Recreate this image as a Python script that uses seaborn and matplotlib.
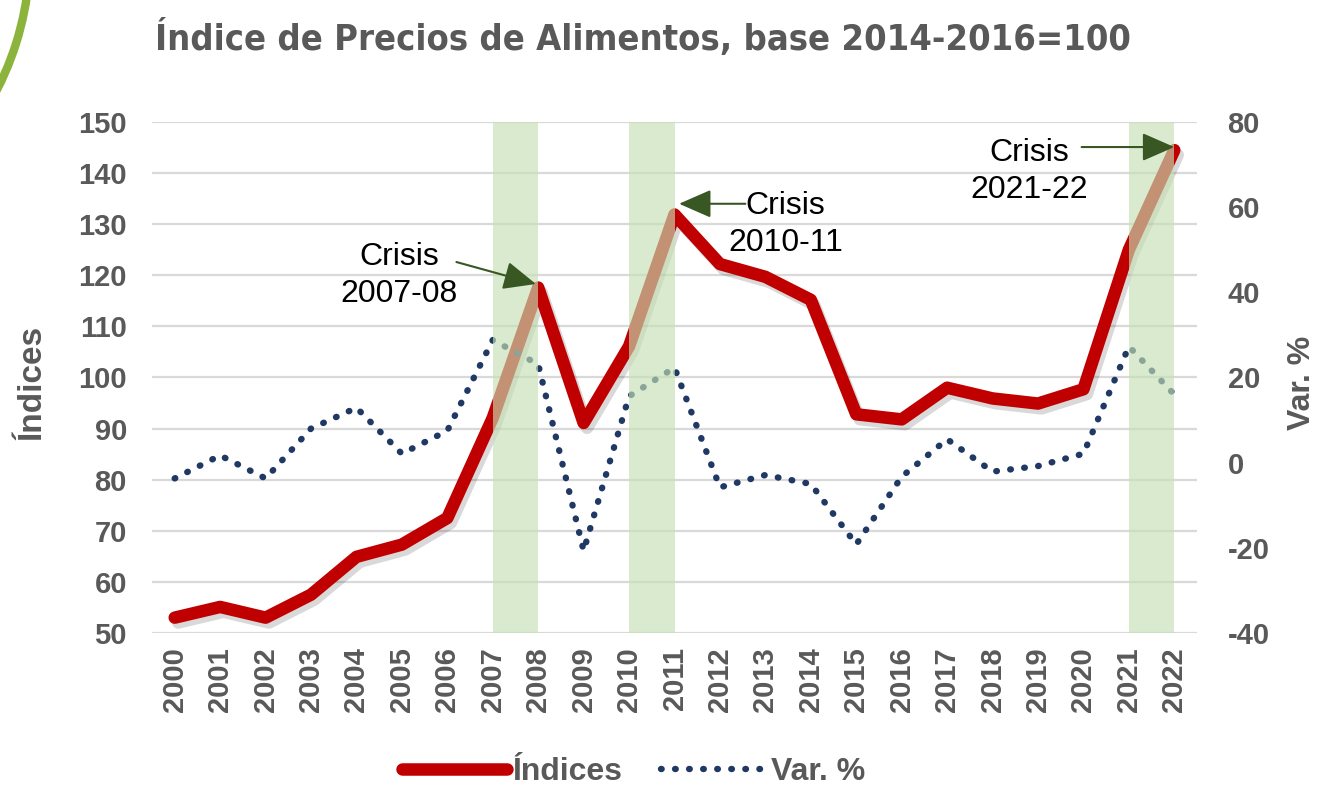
import numpy as np
import pandas as pd
import seaborn as sns
import matplotlib.pyplot as plt
import matplotlib.patheffects as pe
from matplotlib.lines import Line2D
from matplotlib.patches import Arc
from matplotlib.transforms import IdentityTransform

# values
years = list(range(2000, 2023))
indices = [53.0, 55.1, 53.0, 57.5, 64.9, 67.3, 72.5, 92.1, 117.6, 91.1, 106.1, 131.9,
           122.2, 119.7, 115.2, 92.8, 91.8, 98.0, 95.9, 94.9, 97.7, 125.0, 144.5]
var_pct = [-3.7, 1.7, -3.7, 8.0, 12.9, 2.1, 7.5, 28.8, 23.1, -20.7, 15.6, 22.3,
           -5.8, -2.9, -5.0, -19.2, -3.3, 5.5, -2.1, -0.8, 2.1, 27.3, 16.0]
crisis_spans = [(2007, 2008), (2010, 2011), (2021, 2022)]
crisis_labels = ['Crisis\n2007-08', 'Crisis\n2010-11', 'Crisis\n2021-22']

df = pd.DataFrame({'year': years, 'indice': indices, 'var': var_pct})

sns.set_theme(style='white')
plt.rcParams['font.family'] = ['Liberation Sans', 'DejaVu Sans']
plt.rcParams['font.weight'] = 'bold'
plt.rcParams['axes.unicode_minus'] = False

GRAY = '#595959'
RED = '#c00000'
NAVY = '#1f3864'
ARROW = '#385723'
dots = (0, (0.1, 2.1))

fig = plt.figure(figsize=(13.17, 8.08), dpi=100)
ax = fig.add_axes([0.1154, 0.2166, 0.7935, 0.6324])
ax2 = ax.twinx()

sns.lineplot(data=df, x='year', y='indice', ax=ax, color=RED, linewidth=9,
             path_effects=[pe.SimpleLineShadow(offset=(2.5, -3.5), shadow_color='black', alpha=0.15),
                           pe.Normal()])
sns.lineplot(data=df, x='year', y='var', ax=ax2, color=NAVY, linewidth=4.6,
             linestyle=dots, dash_capstyle='round')

# crisis bands drawn over the lines
for a, b in crisis_spans:
    ax2.axvspan(a, b, color='#c5e0b4', alpha=0.65, lw=0, zorder=5)

# axes
ax.set_xlim(1999.5, 2022.5)
ax.set_xticks(years)
ax.set_xticklabels([str(y) for y in years], rotation=90)
ax.set_ylim(50, 150)
ax.set_yticks(range(50, 151, 10))
ax2.set_ylim(-40, 80)
ax2.set_yticks(range(-40, 81, 20))
ax.grid(axis='y', color='#d9d9d9', lw=1.6)
ax.set_axisbelow(True)
for a_ in (ax, ax2):
    for s in a_.spines.values():
        s.set_visible(False)
ax.tick_params(axis='y', length=0, pad=18, labelsize=21, labelcolor=GRAY)
ax.tick_params(axis='x', length=0, pad=10, labelsize=21, labelcolor=GRAY)
ax2.tick_params(axis='y', length=0, pad=22, labelsize=21, labelcolor=GRAY)
ax.set_xlabel('')
ax.set_ylabel('Índices', fontsize=24, color=GRAY, fontweight='bold')
ax.yaxis.set_label_coords(-0.1005, 0.49)
ax2.set_ylabel('Var. %', fontsize=23, color=GRAY, fontweight='bold')
ax2.yaxis.set_label_coords(1.086, 0.49)

# annotations (left-axis data coordinates)
label_pos = [(2004.94, 119.9), (2013.44, 130.0), (2018.81, 140.4)]
arrow_from = [(2006.2, 122.6), (2012.56, 134.0), (2019.96, 145.1)]
arrow_to = [(2007.95, 118.3), (2011.1, 134.0), (2022.0, 145.1)]
for txt, p, f, t in zip(crisis_labels, label_pos, arrow_from, arrow_to):
    ax2.text(p[0], p[1], txt, transform=ax.transData, ha='center', va='center',
             fontsize=23, fontweight='normal', color='black', linespacing=1.3, zorder=6)
    ax2.annotate('', xy=t, xytext=f, xycoords=ax.transData, textcoords=ax.transData,
                 arrowprops=dict(arrowstyle='-|>,head_length=0.8,head_width=0.35',
                                 color=ARROW, lw=1.5, mutation_scale=25,
                                 shrinkA=0, shrinkB=0), zorder=6)

# title, fitted to the reference width
title = fig.text(0.488, 0.953, 'Índice de Precios de Alimentos, base 2014-2016=100',
                 ha='center', va='center', fontsize=30, fontweight='bold', color=GRAY,
                 family=['DejaVu Sans'], fontstretch='condensed')
renderer = fig.canvas.get_renderer()
w = title.get_window_extent(renderer).width
title.set_fontsize(30 * 975 / w)

# legend
handles = [Line2D([], [], color=RED, lw=9, solid_capstyle='round'),
           Line2D([], [], color=NAVY, lw=4.6, linestyle=dots, dash_capstyle='round')]
fig.legend(handles, ['Índices', 'Var. %'], loc='lower center', bbox_to_anchor=(0.481, -0.01),
           ncol=2, frameon=False, fontsize=23, handlelength=3.3, columnspacing=1.2,
           handletextpad=0.15, labelcolor=GRAY)

# green slide decoration in the top-left corner
fig.add_artist(Arc((-270, 855), 600, 600, theta1=-30, theta2=-5, color='#8cb43c', lw=6,
                   transform=IdentityTransform()))

fig.savefig('out.png', dpi=100)
